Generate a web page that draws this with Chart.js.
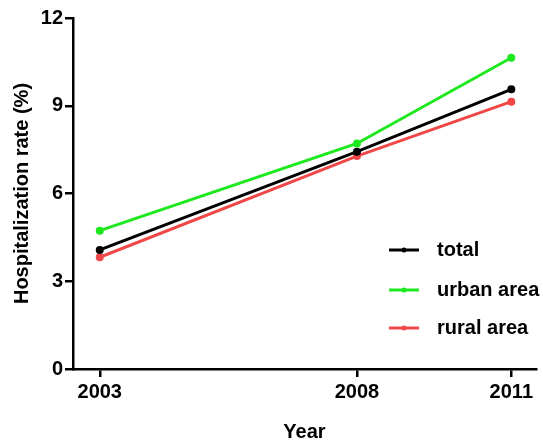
<!DOCTYPE html>
<html>
<head>
<meta charset="utf-8">
<script src="https://cdn.jsdelivr.net/npm/chart.js@4"></script>
<style>
  html, body { margin: 0; padding: 0; background: #fff; }
  #wrap { width: 543px; height: 444px; }
</style>
</head>
<body>
<div id="wrap"><canvas id="myChart-Hospitalization"></canvas></div>
<script>
const years = [2003, 2008, 2011];
const totalRate = [4.07, 7.43, 9.56];
const urbanRate = [4.73, 7.71, 10.64];
const ruralRate = [3.82, 7.28, 9.14];
const yTicks = [0, 3, 6, 9, 12];

const toPoints = (vals) => vals.map((v, i) => ({ x: years[i], y: v }));
const FONT = 'Liberation Sans, Arial, sans-serif';

// legend drawn inside the plot, lower right, like the original figure
const insideLegend = {
  id: 'insideLegend',
  afterDatasetsDraw(chart) {
    const ctx = chart.ctx;
    const rows = [250, 290, 328];
    chart.data.datasets.forEach((ds, i) => {
      const y = rows[i];
      ctx.save();
      ctx.strokeStyle = ds.borderColor;
      ctx.lineWidth = 3;
      ctx.beginPath();
      ctx.moveTo(389, y);
      ctx.lineTo(419, y);
      ctx.stroke();
      ctx.fillStyle = ds.borderColor;
      ctx.beginPath();
      ctx.arc(404, y, 2.5, 0, Math.PI * 2);
      ctx.fill();
      ctx.fillStyle = '#000';
      ctx.font = 'bold 20px ' + FONT;
      ctx.textBaseline = 'middle';
      ctx.fillText(ds.label, 437, y);
      ctx.restore();
    });
  }
};

const ctxHosp = document.getElementById('myChart-Hospitalization');

new Chart(ctxHosp, {
  type: 'line',
  data: {
    datasets: [
      {
        label: 'total',
        data: toPoints(totalRate),
        borderColor: '#000000',
        backgroundColor: '#000000',
        borderWidth: 3,
        pointRadius: 2.5,
        fill: false
      }, {
        label: 'urban area',
        data: toPoints(urbanRate),
        borderColor: '#1ee81e',
        backgroundColor: '#1ee81e',
        borderWidth: 3,
        pointRadius: 2.5,
        fill: false
      }, {
        label: 'rural area',
        data: toPoints(ruralRate),
        borderColor: '#f04848',
        backgroundColor: '#f04848',
        borderWidth: 3,
        pointRadius: 2.5,
        fill: false
      }]
  },
  options: {
    responsive: true,
    maintainAspectRatio: false,
    animation: false,
    layout: { padding: { left: 0, right: 0, top: 18, bottom: 0 } },
    plugins: {
      legend: { display: false },
      tooltip: { enabled: false }
    },
    scales: {
      x: {
        type: 'linear',
        min: 2002.48,
        max: 2011.48,
        afterBuildTicks: (scale) => { scale.ticks = years.map(v => ({ value: v })); },
        afterFit: (scale) => { scale.height = 75; },
        border: { display: true, color: '#000', width: 2.5 },
        grid: { drawOnChartArea: false, drawTicks: true, tickLength: 8, color: '#000', lineWidth: 2.5 },
        ticks: {
          color: '#000',
          padding: 3,
          maxRotation: 0,
          font: { family: FONT, size: 20, weight: 'bold' },
          callback: (v) => String(v)
        },
        title: {
          display: true,
          text: 'Year',
          color: '#000',
          padding: { top: 16, bottom: 0 },
          font: { family: FONT, size: 20, weight: 'bold' }
        }
      },
      y: {
        min: 0,
        max: 12,
        afterBuildTicks: (scale) => { scale.ticks = yTicks.map(v => ({ value: v })); },
        afterFit: (scale) => { scale.width = 73; },
        border: { display: true, color: '#000', width: 2.5 },
        grid: { drawOnChartArea: false, drawTicks: true, tickLength: 8, color: '#000', lineWidth: 2.5 },
        ticks: {
          color: '#000',
          padding: 2,
          font: { family: FONT, size: 20, weight: 'bold' }
        },
        title: {
          display: true,
          text: 'Hospitalization rate (%)',
          color: '#000',
          padding: { top: 10, bottom: 0 },
          font: { family: FONT, size: 20, weight: 'bold' }
        }
      }
    }
  },
  plugins: [insideLegend]
});
</script>
</body>
</html>
